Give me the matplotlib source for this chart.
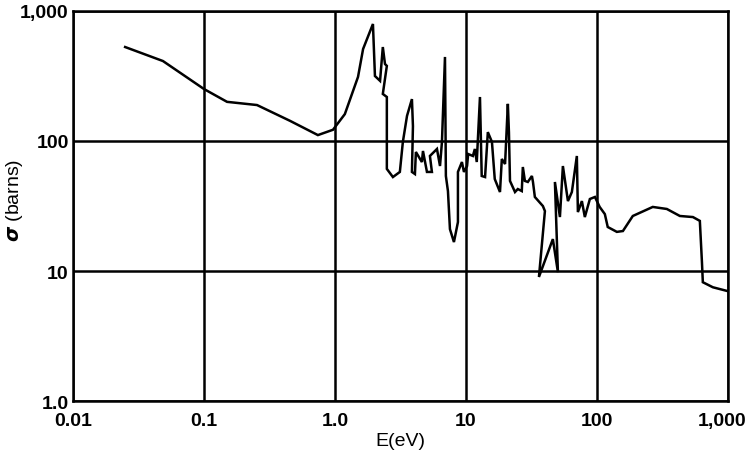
import numpy as np
import matplotlib
matplotlib.use('Agg')
import matplotlib.pyplot as plt
import matplotlib.transforms as mtransforms
from matplotlib.ticker import FixedLocator, NullLocator

# energy (eV) and cross section (barns)
energy = [0.025, 0.0486, 0.10, 0.150, 0.254, 0.453, 0.741, 0.966, 1.19, 1.50,
          1.64, 1.95, 2.02, 2.21, 2.32, 2.41, 2.49, 2.32, 2.49, 2.49,
          2.77, 3.13, 3.30, 3.55, 3.87, 3.94, 3.87, 4.08, 4.15, 4.61,
          4.70, 5.04, 5.50, 5.31, 6.01, 6.34, 6.56, 6.92, 7.03, 7.29,
          7.55, 8.10, 8.69, 8.69, 9.32, 9.66, 10.2, 10.4, 11.3, 11.7,
          12.1, 12.8, 13.2, 14.0, 14.7, 15.8, 16.6, 18.2, 18.8, 19.9,
          20.9, 21.3, 21.7, 23.7, 24.9, 26.7, 27.2, 28.2, 29.7, 31.9,
          32.5, 33.6, 38.7, 40.1, 36.1, 46.1, 50.4, 47.8, 52.2, 55.0,
          60.1, 64.4, 70.3, 71.6, 76.8, 80.9, 88.4, 96.6, 105, 115,
          121, 142, 158, 188, 267, 342, 430, 541, 611, 634,
          644, 768, 1000]
sigma = [528, 412, 251, 200, 189, 143, 111, 122, 161, 311,
         510, 794, 316, 290, 528, 391, 378, 230, 218, 61,
         52.8, 57.8, 98.3, 156, 210, 130, 57.8, 55.7, 82.3, 68.9,
         83.8, 57.8, 57.8, 76.7, 86.8, 64.2, 98.3, 443, 53.8, 41.2,
         21.0, 16.7, 23.8, 57.8, 68.9, 57.8, 64.2, 79.4, 76.7, 86.8,
         68.9, 218, 53.8, 52.8, 117, 98.3, 51, 40.5, 72.7, 66.5,
         193, 117, 49.3, 40.5, 42.7, 41.2, 63.1, 49.3, 48.4, 53.8,
         48.4, 37.1, 31.6, 28.9, 9.0, 17.6, 9.8, 48.4, 26.0, 64.2,
         34.5, 40.5, 76.7, 28.4, 34.5, 26.0, 35.8, 37.1, 31.1, 27.4,
         21.8, 20.0, 20.3, 26.5, 31.1, 30.0, 26.5, 26.0, 24.3, 11.7,
         8.2, 7.5, 7.0]

x_ticks = [0.01, 0.1, 1.0, 10, 100, 1000]
x_labels = ['0.01', '0.1', '1.0', '10', '100', '1,000']
y_ticks = [1.0, 10, 100, 1000]
y_labels = ['1.0', '10', '100', '1,000']

plt.rcParams['font.family'] = ['Liberation Sans', 'DejaVu Sans']

fig = plt.figure(figsize=(7.45, 4.6), dpi=100)
ax = fig.add_axes([0.098, 0.126, 0.879, 0.848])

ax.plot(energy, sigma, color='black', linewidth=1.8, solid_joinstyle='miter')

ax.set_xscale('log')
ax.set_yscale('log')
ax.set_xlim(0.01, 1000)
ax.set_ylim(1.0, 1000)

ax.xaxis.set_major_locator(FixedLocator(x_ticks))
ax.yaxis.set_major_locator(FixedLocator(y_ticks))
ax.xaxis.set_minor_locator(NullLocator())
ax.yaxis.set_minor_locator(NullLocator())
ax.set_xticklabels(x_labels, fontsize=14, fontweight='bold')
ax.set_yticklabels(y_labels, fontsize=14, fontweight='bold')
ax.tick_params(axis='x', length=0, pad=8)
ax.tick_params(axis='y', length=0, pad=3)

# the last x label sits against the right edge, nudge it in a little
last = ax.get_xticklabels()[-1]
last.set_transform(last.get_transform() +
                   mtransforms.ScaledTranslation(-0.06, 0, fig.dpi_scale_trans))

ax.grid(True, color='black', linewidth=1.8)
for s in ax.spines.values():
    s.set_linewidth(1.8)

ax.set_xlabel('E(eV)', fontsize=14, labelpad=2)
fig.text(15 / 745, 1 - 200 / 460, r'$\boldsymbol{\sigma}$ (barns)', fontsize=14,
         rotation=90, ha='center', va='center')

fig.savefig('out.png', dpi=100)
